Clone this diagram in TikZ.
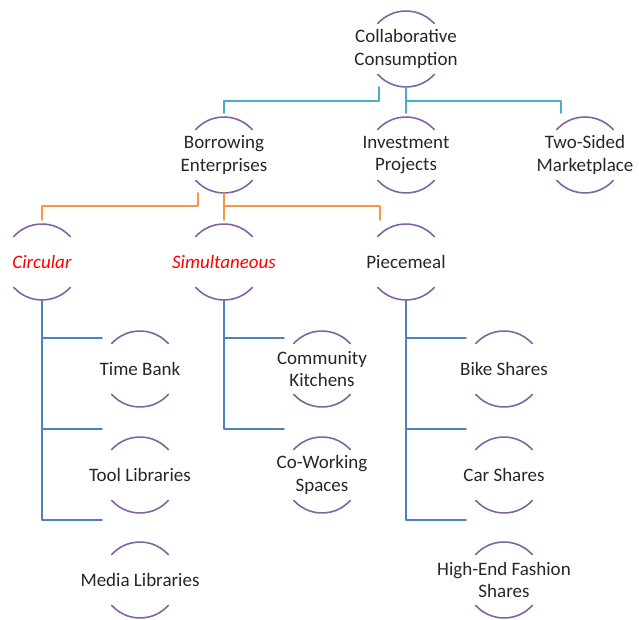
\documentclass[tikz,border=0pt]{standalone}
\usepackage{fontspec}
\setmainfont{Carlito}
\usepackage{tikz}
\usetikzlibrary{calc}
\definecolor{arcpurple}{rgb}{0.502,0.392,0.635}
\definecolor{linkteal}{rgb}{0.294,0.675,0.776}
\definecolor{linkorange}{rgb}{0.969,0.588,0.275}
\definecolor{linkblue}{rgb}{0.310,0.506,0.741}
\definecolor{textgray}{rgb}{0.15,0.15,0.15}
\tikzstyle{every node}=[font=\fontsize{19}{22.5}\selectfont,text=textgray,align=center,inner sep=0pt]
\tikzstyle{redtext}=[text=red,font=\fontsize{19}{22.5}\selectfont\itshape]
\tikzstyle{arcline}=[line width=1.6pt,color=arcpurple]
\tikzstyle{tealline}=[line width=1.6pt,color=linkteal]
\tikzstyle{orangeline}=[line width=1.6pt,color=linkorange]
\tikzstyle{blueline}=[line width=1.6pt,color=linkblue]

\begin{document}
\begin{tikzpicture}[line cap=round,line join=round,x=1pt,y=1pt]
                    \useasboundingbox (0,0) rectangle (639,620);
                    % levels 1 and 2
                    \node (top) at (406,571) {Collaborative\\Consumption};
                    \node (borrow) at (224,465) {Borrowing\\Enterprises};
                    \node (invest) at (406,465) {Investment\\Projects};
                    \node (twosided) at (585,465) {Two-Sided\\Marketplace};
                    % level 3
                    \node[redtext] (circular) at (42,358) {Circular};
                    \node[redtext] (simult) at (224,358) {Simultaneous};
                    \node (piece) at (406,358) {Piecemeal};
                    % leaves
                    \node (timebank) at (140,251) {Time Bank};
                    \node (tool) at (140,145) {Tool Libraries};
                    \node (media) at (140,40) {Media Libraries};
                    \node (kitchens) at (322,251) {Community\\Kitchens};
                    \node (cowork) at (322,145) {Co-Working\\Spaces};
                    \node (bike) at (504,251) {Bike Shares};
                    \node (car) at (504,145) {Car Shares};
                    \node (fashion) at (504,40) {High-End Fashion\\Shares};
                    % arcs round every item
                    \foreach \n in {top,borrow,invest,twosided,circular,simult,piece,timebank,tool,media,kitchens,cowork,bike,car,fashion}
                    {
                      \draw[arcline] ($(\n)+(42:38)$) arc[start angle=42,end angle=138,radius=38];
                      \draw[arcline] ($(\n)+(222:38)$) arc[start angle=222,end angle=318,radius=38];
                    }
                    % connectors
                    \draw[tealline] ($(top)+(-27,-38)$) -- ++(0,-14) -| ($(borrow)+(0,42)$);
                    \draw[tealline] ($(top)+(0,-38)$) -- ($(invest)+(0,42)$);
                    \draw[tealline] ($(top)+(0,-52)$) -| ($(twosided)+(-24,42)$);
                    \draw[orangeline] ($(borrow)+(-26,-38)$) -- ++(0,-13) -| ($(circular)+(0,42)$);
                    \draw[orangeline] ($(borrow)+(0,-38)$) -- ($(simult)+(0,42)$);
                    \draw[orangeline] ($(borrow)+(0,-51)$) -| ($(piece)+(-26,42)$);
                    \draw[blueline] ($(circular)+(0,-38)$) |- ($(timebank)+(-38,31)$);
                    \draw[blueline] ($(circular)+(0,-38)$) |- ($(tool)+(-38,46)$);
                    \draw[blueline] ($(circular)+(0,-38)$) |- ($(media)+(-38,60)$);
                    \draw[blueline] ($(simult)+(0,-38)$) |- ($(kitchens)+(-38,31)$);
                    \draw[blueline] ($(simult)+(0,-38)$) |- ($(cowork)+(-38,46)$);
                    \draw[blueline] ($(piece)+(0,-38)$) |- ($(bike)+(-38,31)$);
                    \draw[blueline] ($(piece)+(0,-38)$) |- ($(car)+(-38,46)$);
                    \draw[blueline] ($(piece)+(0,-38)$) |- ($(fashion)+(-38,60)$);
                    \end{tikzpicture}
\end{document}
